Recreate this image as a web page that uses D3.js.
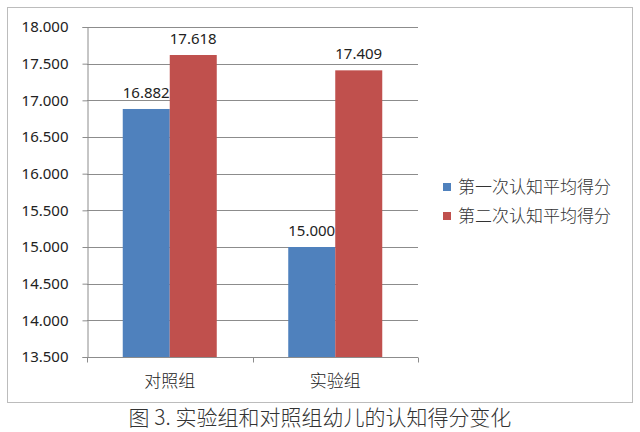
<!DOCTYPE html>
<html><head><meta charset="utf-8">
<script src="https://cdn.jsdelivr.net/npm/d3@7"></script>
<style>body{margin:0;background:#fff}</style>
</head><body>
<script>
const categories = ["对照组", "实验组"];
const seriesNames = ["第一次认知平均得分", "第二次认知平均得分"];
const firstScores = [16.882, 15.000];
const secondScores = [17.618, 17.409];
const yTicks = [13.5, 14.0, 14.5, 15.0, 15.5, 16.0, 16.5, 17.0, 17.5, 18.0];
const colors = ["#4f81bd", "#c0504d"];
const caption = "图 3. 实验组和对照组幼儿的认知得分变化";

(function () {
const W = 640, H = 432;
const svg = d3.select("body").append("svg").attr("width", W).attr("height", H);
svg.append("rect").attr("width", W).attr("height", H).attr("fill", "#fff");
svg.append("rect").attr("x", 7.5).attr("y", 7.5).attr("width", 625).attr("height", 395)
  .attr("fill", "#fff").attr("stroke", "#bcbcbc").attr("stroke-width", 1);

const pL = 87, pR = 418, pT = 27, pB = 357;
const y = d3.scaleLinear().domain([13.5, 18.0]).range([pB, pT]);
const x0 = d3.scaleBand().domain(categories).range([pL, pR]).paddingInner(0.432).paddingOuter(0.216);
const x1 = d3.scaleBand().domain([0, 1]).range([0, x0.bandwidth()]);
const fmt = d3.format(".3f");
const font = "'Noto Sans', 'Liberation Sans', sans-serif";

// gridlines
svg.append("g").selectAll("line").data(yTicks.slice(1)).join("line")
  .attr("x1", pL).attr("x2", pR)
  .attr("y1", d => Math.round(y(d)) + 0.5).attr("y2", d => Math.round(y(d)) + 0.5)
  .attr("stroke", "#8c8c8c").attr("stroke-width", 1);

// y axis
const yAxis = d3.axisLeft(y).tickValues(yTicks).tickFormat(fmt).tickSize(5).tickPadding(14);
const gy = svg.append("g").attr("transform", `translate(${pL + 0.5},0)`).call(yAxis);
gy.select(".domain").attr("stroke", "#8c8c8c");
gy.selectAll(".tick line").attr("stroke", "#8c8c8c");
gy.selectAll(".tick text").attr("font-family", font).attr("font-size", 15).attr("fill", "#222");

// x axis
const gx = svg.append("g").attr("transform", `translate(0,${Math.round(y(13.5)) + 0.5})`);
gx.append("line").attr("x1", pL).attr("x2", pR).attr("stroke", "#8c8c8c");
const bounds = [pL, ...categories.map(c => x0(c) + x0.bandwidth() + x0.step() * 0.216)];
gx.selectAll("line.tk").data(bounds).join("line").attr("class", "tk")
  .attr("x1", d => Math.round(d) + 0.5).attr("x2", d => Math.round(d) + 0.5)
  .attr("y1", 0).attr("y2", 5).attr("stroke", "#8c8c8c");
gx.selectAll("text").data(categories).join("text")
  .attr("x", d => x0(d) + x0.bandwidth() / 2).attr("y", 29)
  .attr("text-anchor", "middle").attr("font-family", "'Noto Sans CJK SC', sans-serif")
  .attr("font-size", 17).attr("font-weight", 300).attr("fill", "#222").text(d => d);

// bars
const data = categories.map((c, i) => ({ c, vals: [firstScores[i], secondScores[i]] }));
const groups = svg.append("g").selectAll("g").data(data).join("g")
  .attr("transform", d => `translate(${x0(d.c)},0)`);
groups.selectAll("rect").data(d => d.vals.map((v, k) => ({ v, k }))).join("rect")
  .attr("x", d => x1(d.k)).attr("width", x1.bandwidth())
  .attr("y", d => y(d.v)).attr("height", d => y(13.5) - y(d.v))
  .attr("fill", d => colors[d.k]);
groups.selectAll("text").data(d => d.vals.map((v, k) => ({ v, k }))).join("text")
  .attr("x", d => x1(d.k) + x1.bandwidth() / 2).attr("y", d => y(d.v) - 11)
  .attr("text-anchor", "middle").attr("font-family", font).attr("font-size", 15)
  .attr("fill", "#222").text(d => fmt(d.v));

// legend
const lg = svg.append("g").attr("transform", "translate(443,187)");
seriesNames.forEach((n, i) => {
  const g = lg.append("g").attr("transform", `translate(0,${i * 29})`);
  g.append("rect").attr("x", 0).attr("y", -4).attr("width", 8).attr("height", 8).attr("fill", colors[i]);
  g.append("text").attr("x", 15).attr("y", 6).attr("font-family", "'Noto Sans CJK SC', sans-serif")
    .attr("font-size", 17).attr("font-weight", 300).attr("fill", "#333").text(n);
});

// caption
svg.append("text").attr("x", 320).attr("y", 425).attr("text-anchor", "middle")
  .attr("font-family", "'Noto Sans CJK SC', sans-serif").attr("font-size", 21)
  .attr("font-weight", 300).attr("fill", "#333").text(caption);
})();
</script>
</body></html>
